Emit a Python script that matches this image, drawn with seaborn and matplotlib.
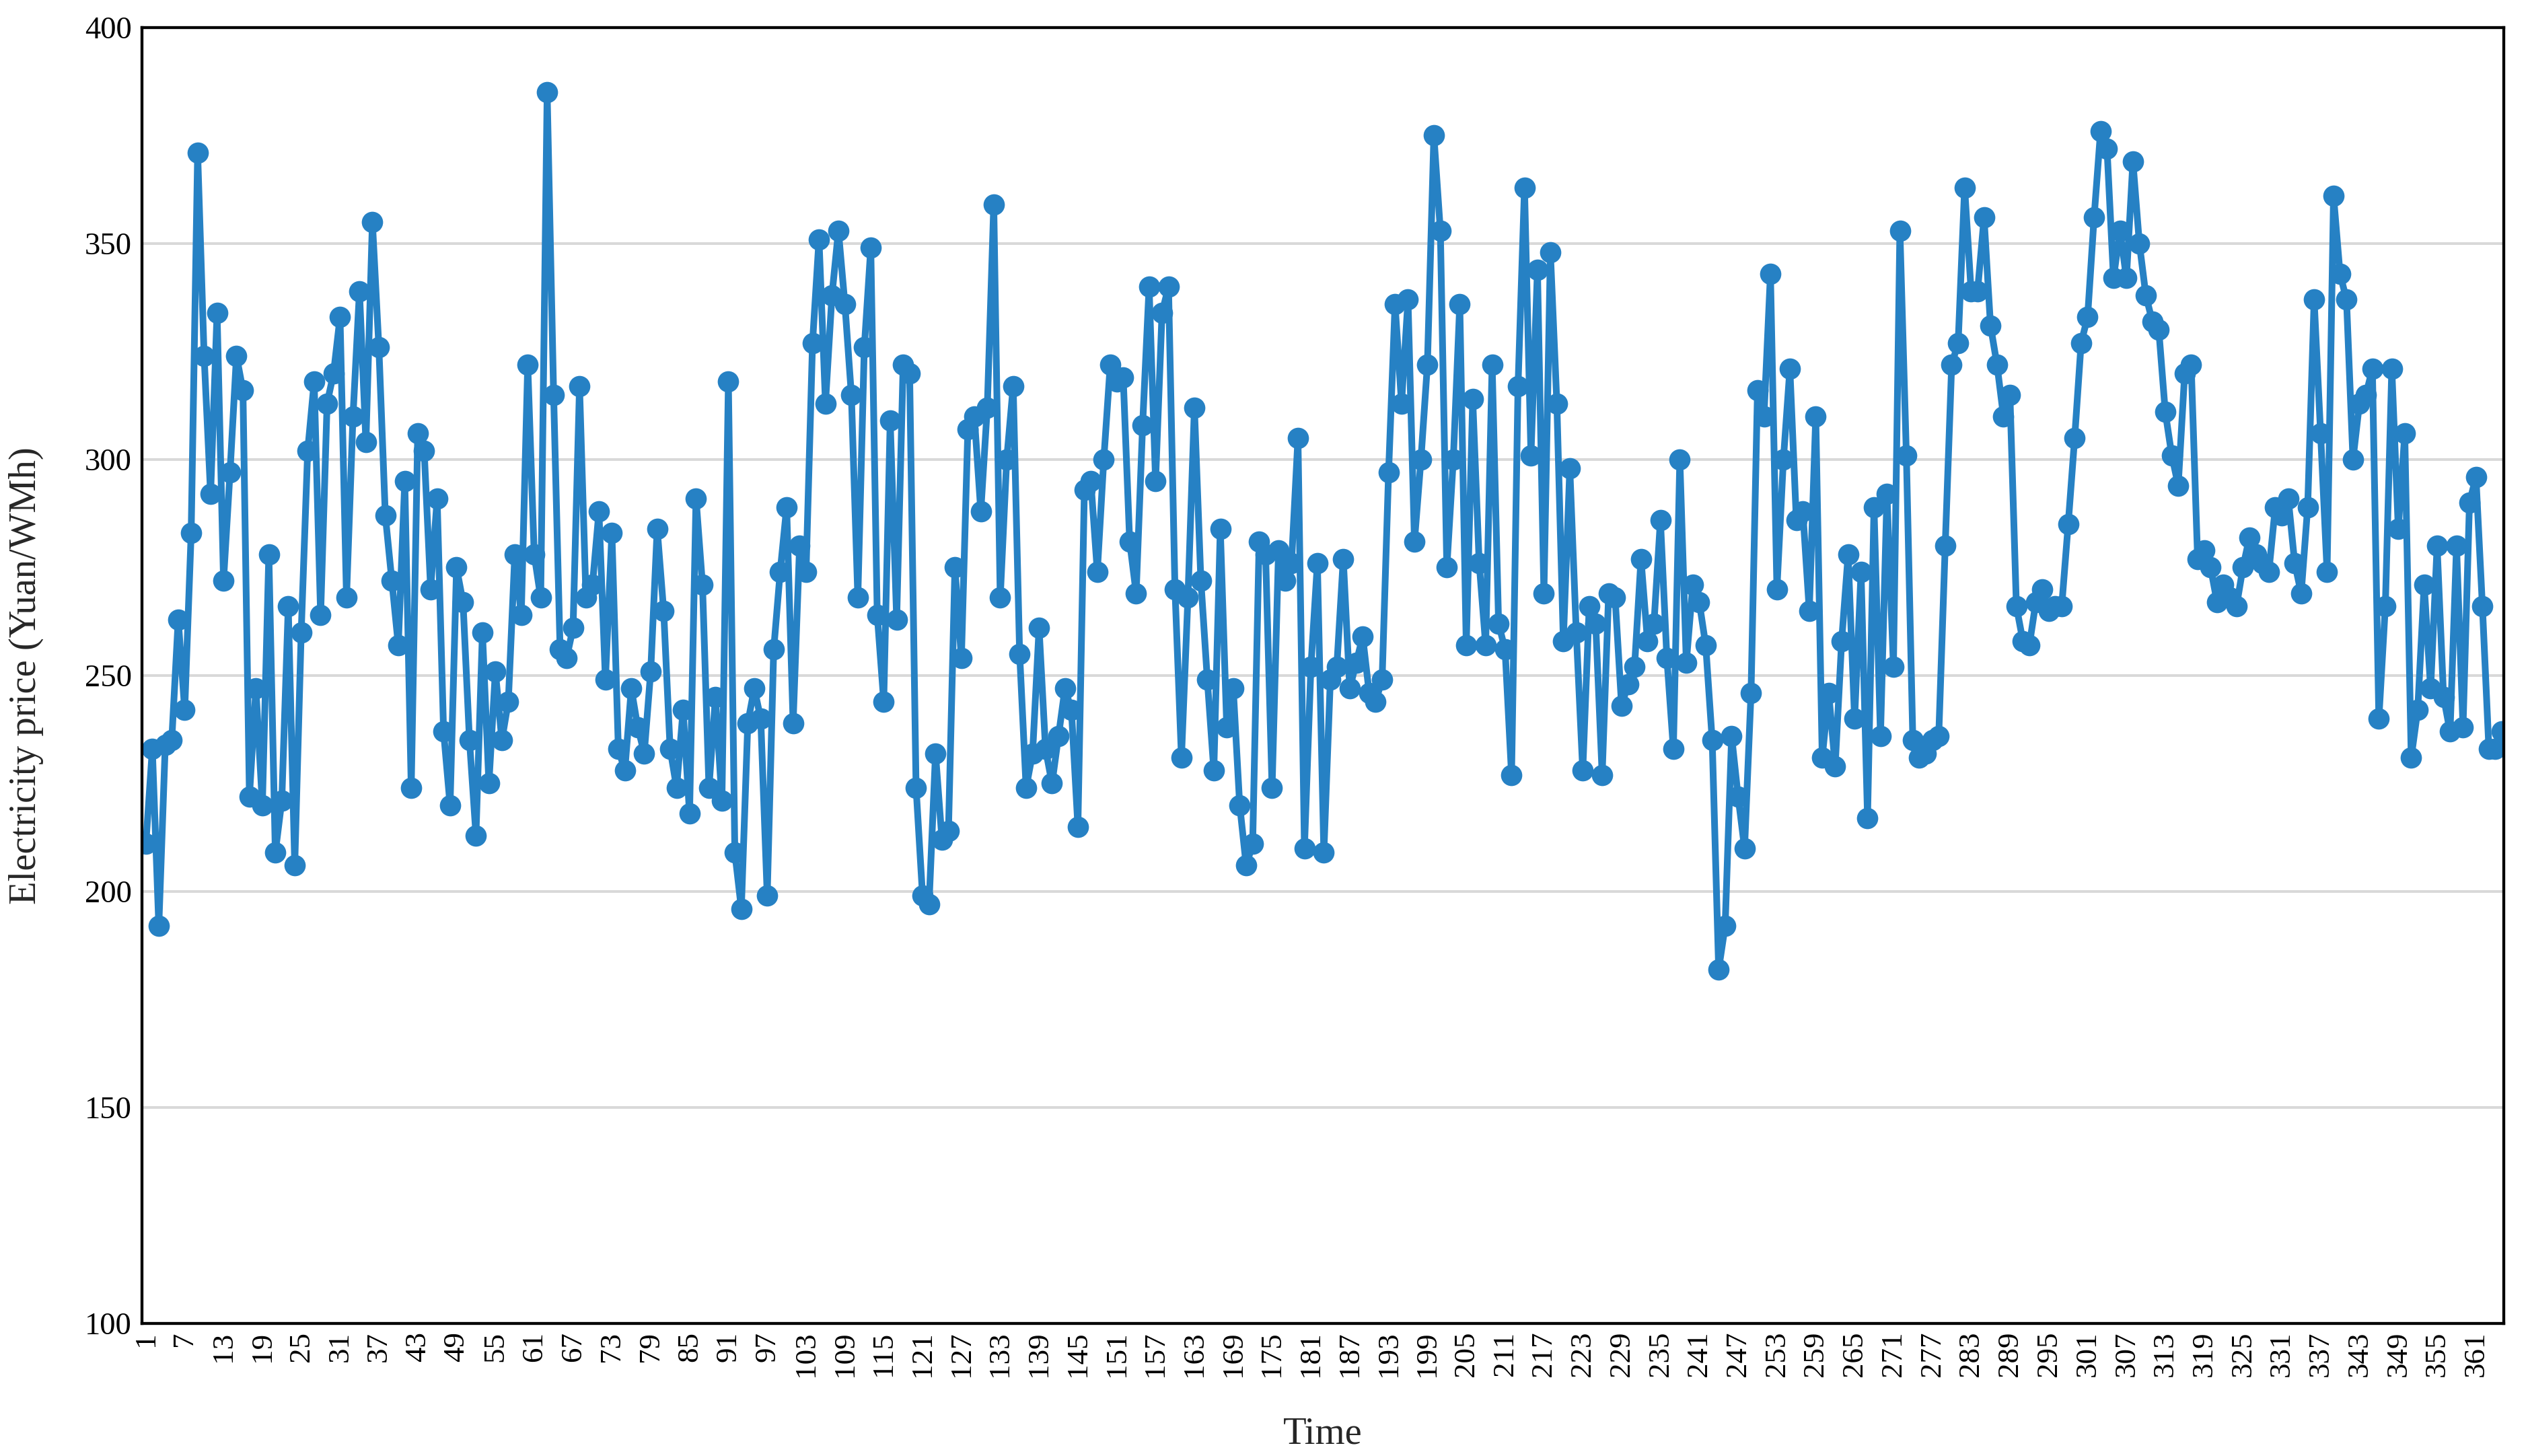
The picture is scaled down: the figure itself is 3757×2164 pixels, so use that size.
import matplotlib
matplotlib.use('Agg')
import matplotlib.pyplot as plt
import seaborn as sns
import pandas as pd
import numpy as np

# daily electricity price (365 days)
price_jan_feb = [211, 233, 192, 234, 235, 263, 242, 283, 371, 324,
                 292, 334, 272, 297, 324, 316, 222, 247, 220, 278,
                 209, 221, 266, 206, 260, 302, 318, 264, 313, 320,
                 333, 268, 310, 339, 304, 355, 326, 287, 272, 257,
                 295, 224, 306, 302, 270, 291, 237, 220, 275, 267,
                 235, 213, 260, 225, 251, 235, 244, 278, 264, 322]
price_mar_apr = [278, 268, 385, 315, 256, 254, 261, 317, 268, 271,
                 288, 249, 283, 233, 228, 247, 238, 232, 251, 284,
                 265, 233, 224, 242, 218, 291, 271, 224, 245, 221,
                 318, 209, 196, 239, 247, 240, 199, 256, 274, 289,
                 239, 280, 274, 327, 351, 313, 338, 353, 336, 315,
                 268, 326, 349, 264, 244, 309, 263, 322, 320, 224]
price_may_jun = [199, 197, 232, 212, 214, 275, 254, 307, 310, 288,
                 312, 359, 268, 300, 317, 255, 224, 232, 261, 233,
                 225, 236, 247, 242, 215, 293, 295, 274, 300, 322,
                 318, 319, 281, 269, 308, 340, 295, 334, 340, 270,
                 231, 268, 312, 272, 249, 228, 284, 238, 247, 220,
                 206, 211, 281, 278, 224, 279, 272, 276, 305, 210]
price_jul_aug = [252, 276, 209, 249, 252, 277, 247, 253, 259, 246,
                 244, 249, 297, 336, 313, 337, 281, 300, 322, 375,
                 353, 275, 300, 336, 257, 314, 276, 257, 322, 262,
                 256, 227, 317, 363, 301, 344, 269, 348, 313, 258,
                 298, 260, 228, 266, 262, 227, 269, 268, 243, 248,
                 252, 277, 258, 262, 286, 254, 233, 300, 253, 271]
price_sep_oct = [267, 257, 235, 182, 192, 236, 222, 210, 246, 316,
                 310, 343, 270, 300, 321, 286, 288, 265, 310, 231,
                 246, 229, 258, 278, 240, 274, 217, 289, 236, 292,
                 252, 353, 301, 235, 231, 232, 235, 236, 280, 322,
                 327, 363, 339, 339, 356, 331, 322, 310, 315, 266,
                 258, 257, 267, 270, 265, 266, 266, 285, 305, 327]
price_nov_dec = [333, 356, 376, 372, 342, 353, 342, 369, 350, 338,
                 332, 330, 311, 301, 294, 320, 322, 277, 279, 275,
                 267, 271, 268, 266, 275, 282, 278, 276, 274, 289,
                 287, 291, 276, 269, 289, 337, 306, 274, 361, 343,
                 337, 300, 313, 315, 321, 240, 266, 321, 284, 306,
                 231, 242, 271, 247, 280, 245, 237, 280, 238, 290,
                 296, 266, 233, 233, 237]

price = (price_jan_feb + price_mar_apr + price_may_jun +
         price_jul_aug + price_sep_oct + price_nov_dec)
days = list(range(1, len(price) + 1))
tick_days = list(range(1, 362, 6))

df = pd.DataFrame({'Time': days, 'price': price})

sns.set_style('white')
plt.rcParams['font.family'] = ['Liberation Serif', 'DejaVu Serif']

fig = plt.figure(figsize=(3757 / 240, 2164 / 240), dpi=240)
ax = fig.add_axes([211 / 3757, 1 - 1967 / 2164, (3721 - 211) / 3757, (1967 - 41) / 2164])

ax.grid(axis='y', color='#d9d9d9', linewidth=1.2, zorder=0)
ax.set_axisbelow(True)

sns.lineplot(data=df, x='Time', y='price', ax=ax, color='#2681c4',
             linewidth=3.0, marker='o', markersize=9.5, markeredgewidth=0)

ax.set_xlim(0.4, 365.3)
ax.set_ylim(100, 400)
ax.set_yticks(range(100, 401, 50))
ax.set_xticks(tick_days)
ax.set_xticklabels([str(d) for d in tick_days], rotation=90)
ax.tick_params(axis='both', length=0, labelsize=14, colors='black')
ax.tick_params(axis='x', pad=3.5, labelsize=13.5)
ax.tick_params(axis='y', pad=4.5)

for side in ['left', 'right', 'top', 'bottom']:
    ax.spines[side].set_visible(True)
    ax.spines[side].set_color('black')
    ax.spines[side].set_linewidth(1.3)

ax.set_xlabel('Time', fontsize=17)
ax.set_ylabel('Electricity price (Yuan/WMh)', fontsize=17)
ax.xaxis.set_label_coords(0.5, -0.072)
ax.yaxis.set_label_coords(-0.0416, 0.5)

fig.savefig('out.png', dpi=240)
